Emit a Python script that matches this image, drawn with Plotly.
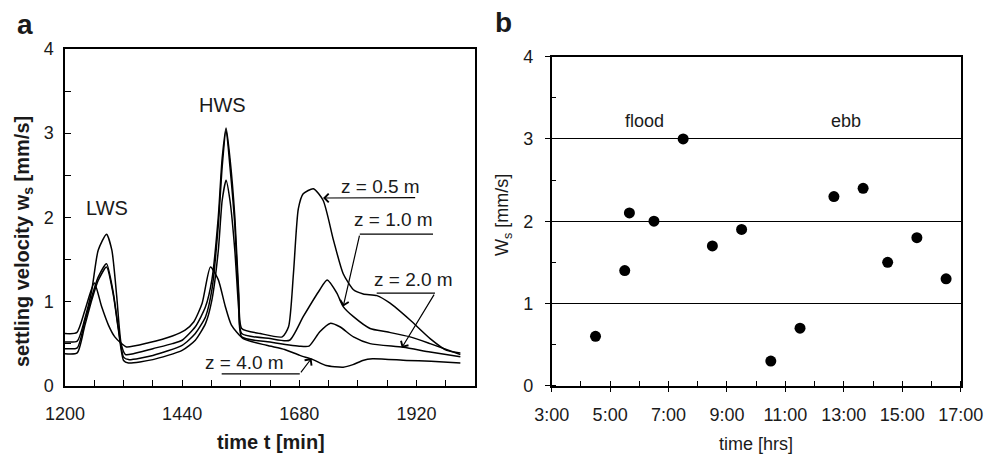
import plotly.graph_objects as go

# ---------------- data: panel a (settling velocity time series) ----------------
t_z05 = [1200, 1225, 1240, 1255, 1268, 1285, 1296, 1306, 1315, 1324, 1340, 1380, 1420, 1440, 1467, 1488,
         1501, 1514, 1522, 1530, 1538, 1548, 1556, 1562, 1600, 1645, 1658, 1668, 1678, 1688, 1709, 1729,
         1750, 1770, 1791, 1811, 1839, 1866, 1907, 1948, 1982, 2010]
v_z05 = [0.52, 0.53, 0.78, 1.14, 1.61, 1.80, 1.61, 1.06, 0.50, 0.37, 0.38, 0.44, 0.50, 0.54, 0.70, 0.94,
         1.26, 2.00, 2.70, 3.06, 2.70, 2.00, 1.10, 0.68, 0.62, 0.58, 0.70, 1.33, 2.10, 2.28, 2.34, 2.20,
         1.73, 1.33, 1.14, 1.09, 1.07, 0.98, 0.78, 0.56, 0.42, 0.39]

t_z10 = [1200, 1225, 1240, 1255, 1268, 1285, 1299, 1309, 1320, 1330, 1380, 1440, 1467, 1488, 1501, 1514,
         1522, 1530, 1538, 1548, 1556, 1562, 1620, 1660, 1688, 1722, 1737, 1757, 1770, 1791, 1825, 1859,
         1907, 1948, 2010]
v_z10 = [0.44, 0.45, 0.75, 1.06, 1.29, 1.45, 1.10, 0.70, 0.34, 0.31, 0.36, 0.48, 0.62, 0.82, 1.14, 1.90,
         2.60, 3.04, 2.60, 1.90, 1.00, 0.62, 0.56, 0.54, 0.82, 1.14, 1.255, 1.10, 0.94, 0.82, 0.68, 0.64,
         0.58, 0.50, 0.37]

t_z20 = [1200, 1225, 1240, 1255, 1268, 1285, 1299, 1309, 1320, 1330, 1380, 1440, 1467, 1488, 1501, 1514,
         1522, 1530, 1538, 1548, 1556, 1562, 1620, 1680, 1700, 1722, 1743, 1763, 1791, 1825, 1893, 1948, 2010]
v_z20 = [0.38, 0.39, 0.70, 1.02, 1.25, 1.41, 1.08, 0.68, 0.30, 0.27, 0.31, 0.42, 0.54, 0.74, 1.02, 1.60,
         2.20, 2.44, 2.20, 1.60, 0.90, 0.58, 0.52, 0.47, 0.47, 0.64, 0.74, 0.70, 0.58, 0.50, 0.456, 0.40, 0.345]

t_z40 = [1200, 1224, 1241, 1260, 1275, 1289, 1302, 1316, 1326, 1371, 1420, 1446, 1464, 1481, 1498, 1514,
         1528, 1541, 1565, 1613, 1650, 1681, 1708, 1735, 1770, 1790, 1810, 1830, 1900, 1950, 2010]
v_z40 = [0.62, 0.63, 0.90, 1.22, 0.94, 0.72, 0.58, 0.50, 0.46, 0.51, 0.59, 0.66, 0.76, 0.98, 1.41, 1.26,
         0.95, 0.72, 0.56, 0.48, 0.43, 0.36, 0.31, 0.24, 0.22, 0.25, 0.30, 0.32, 0.30, 0.29, 0.27]

a_xlabelvals = [1200, 1440, 1680, 1920]
a_xticktext = ["1200", "1440", "1680", "1920"]
a_ylabelvals = [0, 1, 2, 3, 4]
a_yticktext = ["0", "1", "2", "3", "4"]

# ---------------- data: panel b (Ws vs time of day) ----------------
b_hours = [4.5, 5.5, 5.66, 6.5, 7.5, 8.5, 9.5, 10.5, 11.5, 12.66, 13.66, 14.5, 15.5, 16.5]
b_ws = [0.6, 1.4, 2.1, 2.0, 3.0, 1.7, 1.9, 0.3, 0.7, 2.3, 2.4, 1.5, 1.8, 1.3]
b_xtickvals = [3, 5, 7, 9, 11, 13, 15, 17]
b_xticktext = ["3:00", "5:00", "7:00", "9:00", "11:00", "13:00", "15:00", "17:00"]
b_ytickvals = [0, 1, 2, 3, 4]
b_yticktext = ["0", "1", "2", "3", "4"]

FONT = "Liberation Sans, Arial, Helvetica, sans-serif"
INK = "#1a1a1a"
PAGE_PAD = 8                 # default body margin of the html page
W, H = 995 - PAGE_PAD, 457 - PAGE_PAD

def px(x):
    return (x - PAGE_PAD) / W

def py(y):
    return 1 - (y - PAGE_PAD) / H

fig = go.Figure()
for t, v in [(t_z05, v_z05), (t_z10, v_z10), (t_z20, v_z20), (t_z40, v_z40)]:
    fig.add_trace(go.Scatter(x=t, y=v, mode="lines", xaxis="x", yaxis="y",
                             line=dict(color="black", width=1.5, shape="spline", smoothing=0.6),
                             showlegend=False, hoverinfo="skip"))

fig.add_trace(go.Scatter(x=b_hours, y=b_ws, mode="markers", xaxis="x2", yaxis="y2",
                         marker=dict(color="black", size=11), showlegend=False))

axis_common = dict(showline=True, linecolor="black", linewidth=1.5, mirror=True, zeroline=False,
                   showgrid=False, automargin=False,
                   tickfont=dict(family=FONT, size=18, color=INK), tickcolor="black")

fig.update_layout(
    width=W, height=H,
    margin=dict(l=0, r=0, t=0, b=0, autoexpand=False),
    paper_bgcolor="white", plot_bgcolor="white",
    font=dict(family=FONT, color=INK),
    xaxis=dict(axis_common, domain=[px(65), px(475)], anchor="y", range=[1200, 2040],
               tickmode="array", tickvals=a_xlabelvals, ticktext=a_xticktext,
               ticks="inside", ticklen=6, tickwidth=1.2, ticklabelstandoff=11,
               minor=dict(ticks="inside", dtick=60, tick0=1200, ticklen=6, tickwidth=1.2,
                          tickcolor="black", showgrid=False)),
    yaxis=dict(axis_common, domain=[py(385.7), py(49)], anchor="x", range=[0, 4],
               tickmode="array", tickvals=a_ylabelvals, ticktext=a_yticktext,
               ticks="inside", ticklen=6, tickwidth=1.2, ticklabelstandoff=6,
               minor=dict(ticks="inside", dtick=0.5, tick0=0, ticklen=6, tickwidth=1.2,
                          tickcolor="black", showgrid=False)),
    xaxis2=dict(axis_common, domain=[px(551.7), px(960.7)], anchor="y2", range=[3, 17],
                tickmode="array", tickvals=b_xtickvals, ticktext=b_xticktext,
                ticks="outside", ticklen=5, tickwidth=1.2, ticklabelstandoff=7,
                minor=dict(ticks="inside", dtick=1, ticklen=5, tickwidth=1.2, tickcolor="black",
                           tick0=3, showgrid=False)),
    yaxis2=dict(axis_common, domain=[py(385.7), py(56.7)], anchor="x2", range=[0, 4],
                tickmode="array", tickvals=b_ytickvals, ticktext=b_yticktext,
                ticks="outside", ticklen=5, tickwidth=1.2, ticklabelstandoff=8,
                showgrid=True, gridcolor="black", gridwidth=1.2,
                minor=dict(ticks="inside", dtick=0.5, ticklen=5, tickwidth=1.2, tickcolor="black",
                           tick0=0, showgrid=False)),
    xaxis3=dict(overlaying="x2", anchor="y2", range=[3, 17], showline=False, zeroline=False,
                automargin=False, showgrid=False, showticklabels=False, tickmode="array",
                tickvals=b_xtickvals, ticks="inside", ticklen=5, tickwidth=1.2, tickcolor="black"),
    yaxis3=dict(overlaying="y2", anchor="x2", range=[0, 4], showline=False, zeroline=False,
                automargin=False, showgrid=False, showticklabels=False, tickmode="array",
                tickvals=b_ytickvals, ticks="inside", ticklen=5, tickwidth=1.2, tickcolor="black"),
)

ann = []

def text_ann(text, x, y, size, xref="paper", yref="paper", angle=0):
    return dict(text=text, x=x, y=y, xref=xref, yref=yref, showarrow=False, textangle=angle,
                xanchor="center", yanchor="middle", font=dict(size=size, family=FONT, color=INK))

# panel letters
ann.append(text_ann("<b>a</b>", px(25), py(24), 28))
ann.append(text_ann("<b>b</b>", px(503), py(23), 28))
# axis titles
ann.append(text_ann("<b>time t [min]</b>", px(270.7), py(442), 20))
ann.append(text_ann("<b>settling velocity w<sub>s</sub> [mm/s]</b>", px(24), py(242), 20, angle=-90))
ann.append(text_ann("time [hrs]", px(756), py(444), 18))
ann.append(text_ann("W<sub>s</sub> [mm/s]", px(503), py(215), 18, angle=-90))
# panel a labels
ann.append(text_ann("LWS", 1286, 2.11, 20, "x", "y"))
ann.append(text_ann("HWS", 1521.7, 3.33, 20, "x", "y"))
ann.append(text_ann("z = 0.5 m", 1847, 2.37, 19, "x", "y"))
ann.append(text_ann("z = 1.0 m", 1872, 1.98, 19, "x", "y"))
ann.append(text_ann("z = 2.0 m", 1914, 1.267, 19, "x", "y"))
ann.append(text_ann("z = 4.0 m", 1567, 0.27, 19, "x", "y"))
# arrows (tail -> head)
arrows = [((1920.5, 2.235), (1728.6, 2.23)),
          ((1804, 1.80), (1770, 0.94)),
          ((1958, 1.10), (1890, 0.45)),
          ((1681, 0.14), (1705, 0.325))]
for (tx, ty), (hx, hy) in arrows:
    ann.append(dict(text="", x=hx, y=hy, ax=tx, ay=ty, xref="x", yref="y", axref="x", ayref="y",
                    showarrow=True, arrowhead=4, arrowsize=1.4, arrowwidth=1.2, arrowcolor="black"))
# panel b labels
ann.append(text_ann("flood", 6.16, 3.22, 18, "x2", "y2"))
ann.append(text_ann("ebb", 13.07, 3.22, 18, "x2", "y2"))
fig.update_layout(annotations=ann)

# underlines under the depth labels
for x0, x1, yv in [(1804, 1954, 1.80), (1838.6, 1958, 1.10), (1521, 1681, 0.14)]:
    fig.add_shape(type="line", x0=x0, x1=x1, y0=yv, y1=yv, xref="x", yref="y",
                  line=dict(color="black", width=1.2))

fig.write_html("out.html")
